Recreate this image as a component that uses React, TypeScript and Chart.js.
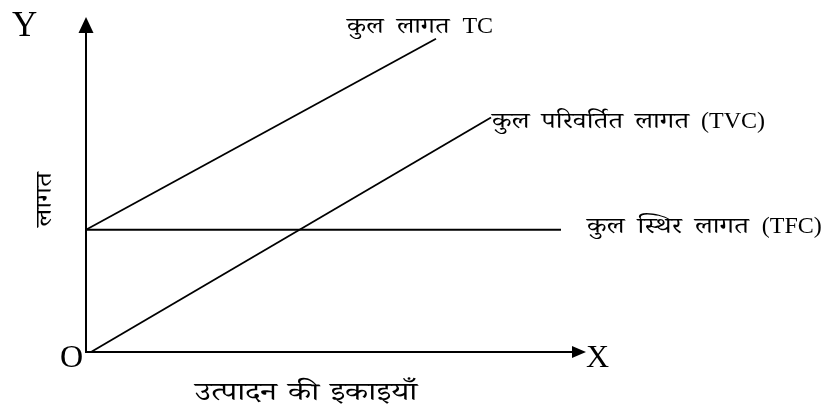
import React, { useEffect, useRef } from "react";
import { Chart, registerables } from "chart.js";

Chart.register(...registerables);

// Data (x: units of output 0..100, y: cost 0..100)
const tcX = [0, 70];
const tcY = [36.5, 93.5];
const tvcX = [1, 81];
const tvcY = [0, 70];
const tfcX = [0, 95];
const tfcY = [36.5, 36.5];

const seriesLabels = ["कुल लागत TC", "कुल परिवर्तित लागत (TVC)", "कुल स्थिर लागत (TFC)"];
const xAxisTitle = "उत्पादन की इकाइयाँ";
const yAxisTitle = "लागत";
const axisLetters = ["X", "Y", "O"];

const SERIF = "'Liberation Serif', 'Times New Roman', 'Noto Serif Devanagari', 'Lohit Devanagari', FreeSerif, serif";

const toPoints = (xs: number[], ys: number[]) => xs.map((x, i) => ({ x, y: ys[i] }));

const isDeva = (s: string) => /[\u0900-\u097F]/.test(s);

function drawWords(
  ctx: CanvasRenderingContext2D,
  text: string,
  x: number,
  y: number,
  size: number,
  gap: number,
  sx: number,
  latinSize: number
) {
  ctx.textAlign = "left";
  ctx.textBaseline = "alphabetic";
  const words = text.split(" ");
  let cx = x;
  words.forEach((w) => {
    const deva = isDeva(w);
    const s = deva ? sx : 1;
    ctx.font = `${deva ? size : latinSize}px ${SERIF}`;
    const wd = ctx.measureText(w).width * s;
    ctx.save();
    ctx.translate(cx, y);
    ctx.scale(s, 1);
    ctx.fillText(w, 0, 0);
    ctx.restore();
    cx += wd + gap;
  });
  return cx - gap - x;
}

const decorPlugin = {
  id: "decor",
  afterDatasetsDraw(chart: any) {
    const ctx = chart.ctx as CanvasRenderingContext2D;
    const xs = chart.scales.x;
    const ys = chart.scales.y;
    const ox = xs.getPixelForValue(0);
    const oy = ys.getPixelForValue(0);
    const xTip = xs.getPixelForValue(100);
    const yTip = ys.getPixelForValue(100);
    ctx.save();
    ctx.strokeStyle = "#000";
    ctx.fillStyle = "#000";
    ctx.lineWidth = 2;
    // Y axis
    ctx.beginPath();
    ctx.moveTo(ox, oy + 1);
    ctx.lineTo(ox, yTip + 14);
    ctx.stroke();
    ctx.beginPath();
    ctx.moveTo(ox, yTip);
    ctx.lineTo(ox - 7.5, yTip + 16);
    ctx.lineTo(ox + 7.5, yTip + 16);
    ctx.closePath();
    ctx.fill();
    // X axis
    ctx.beginPath();
    ctx.moveTo(ox - 1, oy);
    ctx.lineTo(xTip - 12, oy);
    ctx.stroke();
    ctx.beginPath();
    ctx.moveTo(xTip, oy);
    ctx.lineTo(xTip - 14, oy - 6);
    ctx.lineTo(xTip - 14, oy + 6);
    ctx.closePath();
    ctx.fill();

    // Axis letters
    ctx.textBaseline = "alphabetic";
    ctx.textAlign = "left";
    ctx.font = `32px ${SERIF}`;
    ctx.fillText(axisLetters[0], xTip, oy + 15);
    ctx.font = `35px ${SERIF}`;
    ctx.fillText(axisLetters[1], ox - 74, yTip + 19);
    ctx.font = `32px ${SERIF}`;
    ctx.textAlign = "right";
    ctx.fillText(axisLetters[2], ox - 3, oy + 15);

    // Series labels
    drawWords(ctx, seriesLabels[0], 347, 33, 22, 13, 1.22, 24);
    drawWords(
      ctx,
      seriesLabels[1],
      xs.getPixelForValue(tvcX[1]) + 1,
      ys.getPixelForValue(tvcY[1]) + 10,
      22,
      12,
      1.25,
      24
    );
    drawWords(ctx, seriesLabels[2], 587, ys.getPixelForValue(tfcY[1]) + 3, 22, 13, 1.25, 24);

    // Axis titles
    drawWords(ctx, xAxisTitle, 195, 400, 25, 11, 1.3, 25);
    ctx.save();
    ctx.translate(51, 227);
    ctx.rotate(-Math.PI / 2);
    drawWords(ctx, yAxisTitle, 0, 0, 22, 0, 1.27, 22);
    ctx.restore();
    ctx.restore();
  },
};

export default function App() {
  const ref = useRef<HTMLCanvasElement | null>(null);
  useEffect(() => {
    if (!ref.current) return;
    const line = (label: string, xs: number[], ys: number[]) => ({
      label,
      data: toPoints(xs, ys),
      showLine: true,
      borderColor: "#000",
      backgroundColor: "#000",
      borderWidth: 1.8,
      pointRadius: 0,
      fill: false,
      clip: false as any,
    });
    const chart = new Chart(ref.current, {
      type: "scatter",
      data: {
        datasets: [
          line(seriesLabels[0], tcX, tcY),
          line(seriesLabels[1], tvcX, tvcY),
          line(seriesLabels[2], tfcX, tfcY),
        ],
      },
      options: {
        animation: false,
        responsive: false,
        devicePixelRatio: 1,
        layout: { padding: { left: 86, right: 240, top: 17, bottom: 60 } },
        plugins: { legend: { display: false }, tooltip: { enabled: false } },
        scales: {
          x: { type: "linear", min: 0, max: 100, display: false },
          y: { type: "linear", min: 0, max: 100, display: false },
        },
      },
      plugins: [decorPlugin],
    });
    return () => chart.destroy();
  }, []);
  return (
    <div style={{ position: "fixed", left: 0, top: 0, width: 826, height: 412, background: "#fff" }}>
      <canvas ref={ref} width={826} height={412} style={{ display: "block" }} />
    </div>
  );
}
